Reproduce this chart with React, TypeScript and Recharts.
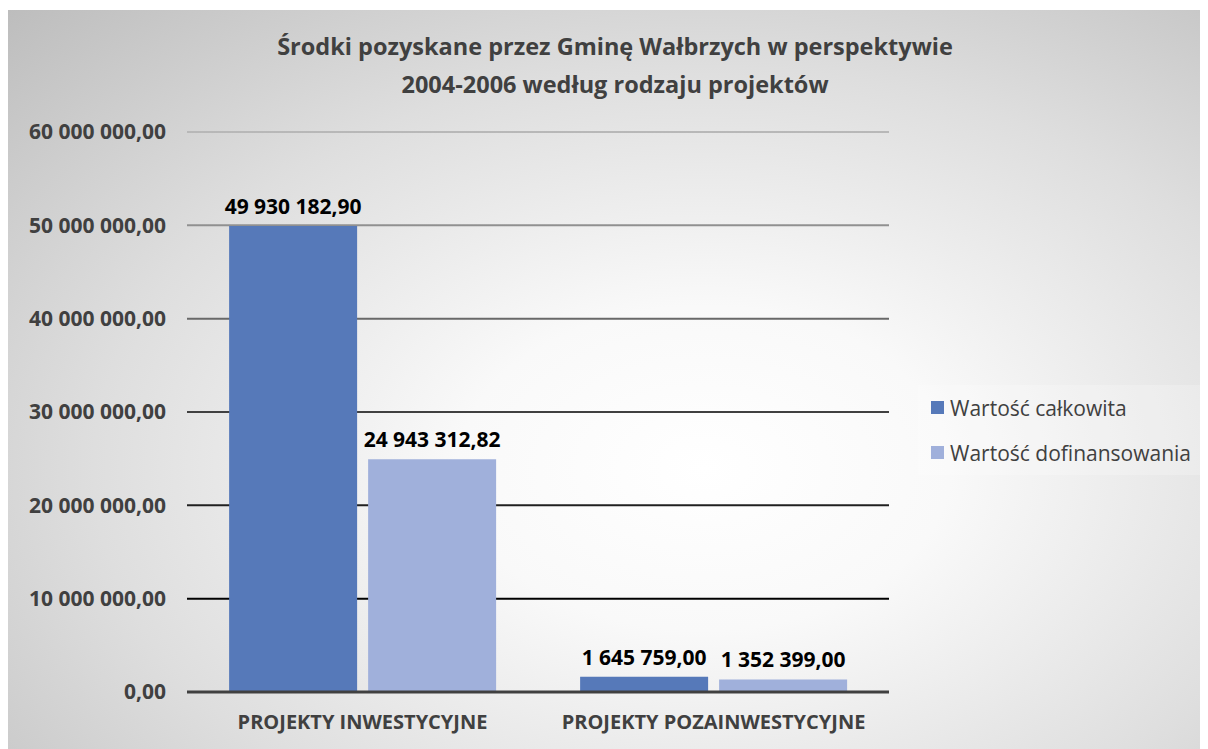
import { BarChart, Bar, XAxis, YAxis, CartesianGrid, LabelList } from 'recharts';

const categories = ['PROJEKTY INWESTYCYJNE', 'PROJEKTY POZAINWESTYCYJNE'];
const totalValues = [49930182.9, 1645759.0];
const fundingValues = [24943312.82, 1352399.0];
const yTicks = [0, 10000000, 20000000, 30000000, 40000000, 50000000, 60000000];
const seriesNames = ['Wartość całkowita', 'Wartość dofinansowania'];

const COLOR_TOTAL = '#5679b9';
const COLOR_FUNDING = '#a0b0db';
const FONT = '"Open Sans", sans-serif';

const data = categories.map((name, i) => ({
  name,
  total: totalValues[i],
  funding: fundingValues[i],
}));

function formatPl(v: number) {
  const [int, dec] = v.toFixed(2).split('.');
  return `${int.replace(/\B(?=(\d{3})+(?!\d))/g, ' ')},${dec}`;
}

// plain svg text so the label is not wrapped to the bar width
function ValueLabel(props: any) {
  const { x, y, width, value } = props;
  return (
    <text
      x={Number(x) + Number(width) / 2}
      y={Number(y) - 12}
      textAnchor="middle"
      fontFamily={FONT}
      fontWeight={700}
      fontSize={21}
      fill="#000"
    >
      {formatPl(Number(value))}
    </text>
  );
}

function LegendBox() {
  const items = [
    { name: seriesNames[0], color: COLOR_TOTAL },
    { name: seriesNames[1], color: COLOR_FUNDING },
  ];
  return (
    <div
      style={{
        position: 'absolute',
        left: 910,
        top: 375,
        width: 284,
        height: 90,
        background: 'rgba(255,255,255,0.22)',
        fontFamily: FONT,
        fontSize: 21,
        color: '#404040',
        boxSizing: 'border-box',
      }}
    >
      {items.map((it) => (
        <div key={it.name} style={{ display: 'flex', alignItems: 'center', height: 45, paddingLeft: 13 }}>
          <div style={{ width: 13, height: 13, background: it.color, marginRight: 6 }} />
          <span style={{ lineHeight: '22px' }}>{it.name}</span>
        </div>
      ))}
    </div>
  );
}

export default function App() {
  return (
    <div
      style={{
        position: 'relative',
        marginTop: 2,
        width: 1200,
        height: 739,
        background: 'radial-gradient(ellipse at 58% 62%, #ffffff 0%, #f9f9f9 25%, #dedede 62%, #bdbdbd 100%)',
      }}
    >
      <div
        style={{
          position: 'absolute',
          top: 17,
          left: 0,
          width: 1214,
          textAlign: 'center',
          fontFamily: FONT,
          fontWeight: 700,
          fontSize: 23.5,
          lineHeight: '38px',
          color: '#404040',
        }}
      >
        Środki pozyskane przez Gminę Wałbrzych w perspektywie
        <br />
        2004-2006 według rodzaju projektów
      </div>
      <LegendBox />
      <BarChart
        width={1200}
        height={739}
        data={data}
        margin={{ top: 122, right: 319, left: 0, bottom: 17 }}
        barCategoryGap="12%"
        barGap={11}
        style={{ position: 'absolute', left: 0, top: 0 }}
      >
        <defs>
          <linearGradient id="gridGrad" gradientUnits="userSpaceOnUse" x1="0" y1="122" x2="0" y2="590">
            <stop offset="0%" stopColor="#b8b8b8" />
            <stop offset="60%" stopColor="#404040" />
            <stop offset="100%" stopColor="#000000" />
          </linearGradient>
        </defs>
        <CartesianGrid vertical={false} stroke="url(#gridGrad)" strokeWidth={2} />
        <XAxis
          dataKey="name"
          interval={0}
          axisLine={{ stroke: '#404040', strokeWidth: 3 }}
          tickLine={false}
          tickSize={0}
          tickMargin={23}
          height={40}
          tick={{ fontFamily: FONT, fontWeight: 700, fontSize: 20, fill: '#404040' }}
        />
        <YAxis
          domain={[0, 60000000]}
          ticks={yTicks}
          width={179}
          axisLine={false}
          tickLine={false}
          tickSize={0}
          tickMargin={21}
          tickFormatter={formatPl}
          tick={{ fontFamily: FONT, fontWeight: 700, fontSize: 21, fill: '#404040' }}
        />
        <Bar dataKey="total" name={seriesNames[0]} fill={COLOR_TOTAL} isAnimationActive={false}>
          <LabelList dataKey="total" content={ValueLabel} />
        </Bar>
        <Bar dataKey="funding" name={seriesNames[1]} fill={COLOR_FUNDING} isAnimationActive={false}>
          <LabelList dataKey="funding" content={ValueLabel} />
        </Bar>
      </BarChart>
    </div>
  );
}
